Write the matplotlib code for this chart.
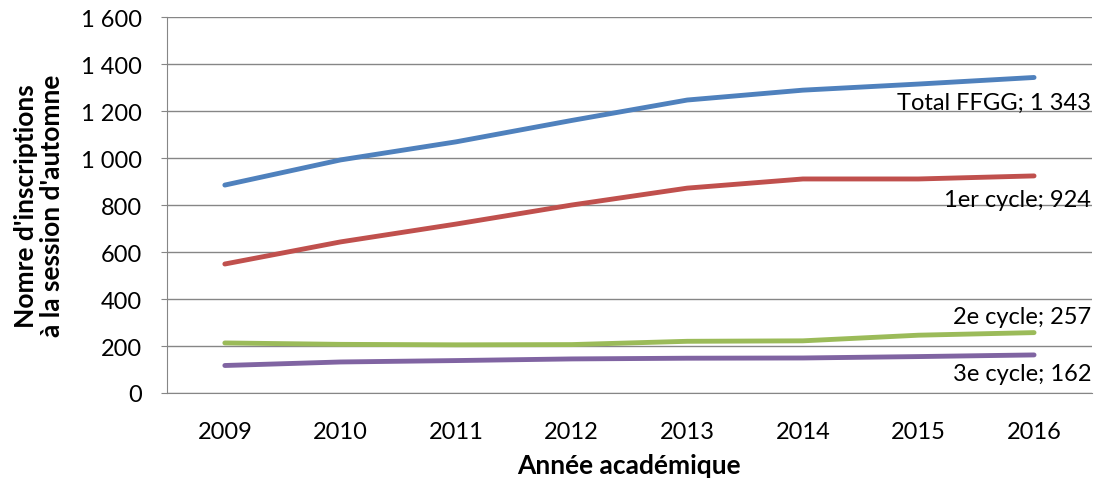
import matplotlib.pyplot as plt
from matplotlib.ticker import FuncFormatter

plt.rcParams['font.family'] = ['Lato', 'DejaVu Sans']

years = [2009, 2010, 2011, 2012, 2013, 2014, 2015, 2016]
total_ffgg = [885, 992, 1069, 1160, 1247, 1289, 1315, 1343]
cycle1 = [549, 643, 719, 800, 872, 911, 911, 924]
cycle2 = [213, 207, 205, 206, 220, 222, 246, 257]
cycle3 = [117, 132, 138, 145, 148, 149, 155, 162]

series = [
    ("Total FFGG; 1 343", total_ffgg, "#4F81BD", (57, -25)),
    ("1er cycle; 924", cycle1, "#C0504D", (57, -24)),
    ("2e cycle; 257", cycle2, "#9BBB59", (57, 16)),
    ("3e cycle; 162", cycle3, "#8064A2", (57, -19)),
]

fig = plt.figure(figsize=(11.04, 4.89), dpi=100)
ax = fig.add_axes([0.1513, 0.1943, 0.8377, 0.7687])

x = list(range(len(years)))
for label, values, color, offset in series:
    ax.plot(x, values, color=color, linewidth=3.5, solid_capstyle="round")
    ax.annotate(label, (x[-1], values[-1]), xytext=offset, textcoords="offset pixels",
                ha="right", va="center", fontsize=17, color="black")

ax.set_xlim(-0.5, len(years) - 0.5)
ax.set_ylim(0, 1600)
ax.set_yticks(range(0, 1601, 200))
ax.yaxis.set_major_formatter(FuncFormatter(lambda v, p: f"{int(v):,}".replace(",", " ")))
ax.set_xticks(x)
ax.set_xticklabels([str(y) for y in years])
ax.tick_params(axis="both", labelsize=17, colors="black")
ax.tick_params(axis="y", length=4, color="#868686", pad=14)
ax.tick_params(axis="x", length=0, pad=20)

ax.grid(axis="y", color="#868686", linewidth=1)
ax.set_axisbelow(True)
for side in ("top", "right"):
    ax.spines[side].set_visible(False)
for side in ("left", "bottom"):
    ax.spines[side].set_color("#868686")

ax.set_xlabel("Année académique", fontsize=19, fontweight="bold", labelpad=8)
ax.set_ylabel("Nomre d'inscriptions\nà la session d'automne", fontsize=19,
              fontweight="bold", labelpad=12, linespacing=1.1)

fig.savefig("out.png", dpi=100)
